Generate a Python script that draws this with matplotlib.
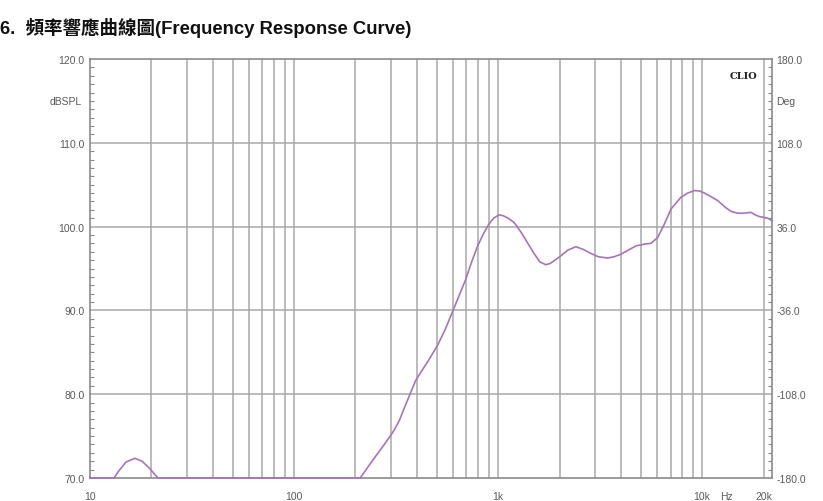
import matplotlib
matplotlib.use("Agg")
import matplotlib.pyplot as plt
from matplotlib.ticker import FixedLocator, MultipleLocator, NullFormatter

# frequency response (Hz, dB SPL)
freq = [10, 13.1, 14, 15, 16.6, 18, 19.5, 21, 21.6, 100, 211, 230, 246, 275, 300, 312,
        330, 345, 370, 394, 420, 450, 504, 550, 597, 650, 694, 740, 791, 850, 902, 950,
        1010, 1060, 1120, 1197, 1290, 1392, 1500, 1600, 1713, 1800, 1900, 2028, 2200,
        2405, 2600, 2850, 3100, 3443, 3700, 4001, 4350, 4743, 5200, 5613, 6055, 6500,
        7041, 7870, 8500, 9156, 9700, 10260, 11000, 11930, 13000, 13880, 14960, 16000,
        17380, 18200, 19090, 20990, 22000]
spl = [70, 70, 71.0, 71.9, 72.35, 72.0, 71.2, 70.3, 70, 70, 70, 71.3, 72.3, 73.9, 75.2,
       75.85, 77.0, 78.2, 80.0, 81.6, 82.7, 83.8, 85.8, 87.7, 89.8, 92.0, 93.7, 95.7,
       97.6, 99.2, 100.3, 101.0, 101.4, 101.3, 101.0, 100.5, 99.4, 98.1, 96.8, 95.8,
       95.45, 95.6, 96.0, 96.5, 97.2, 97.6, 97.3, 96.8, 96.4, 96.25, 96.4, 96.7, 97.2,
       97.7, 97.9, 98.0, 98.7, 100.2, 102.1, 103.5, 104.0, 104.3, 104.25, 104.0, 103.6,
       103.1, 102.3, 101.8, 101.6, 101.6, 101.7, 101.4, 101.2, 101.0, 100.7]

db_ticks = [70, 80, 90, 100, 110, 120]
deg_ticks = [-180, -108, -36, 36, 108, 180]
x_grid = [20, 30, 40, 50, 60, 70, 80, 90, 100, 200, 300, 400, 500, 600, 700, 800, 900,
          1000, 2000, 3000, 4000, 5000, 6000, 7000, 8000, 9000, 10000, 20000]
x_labels = {10: "10", 100: "100", 1000: "1k", 10000: "10k", 20000: "20k"}

plt.rcParams['font.family'] = ['Liberation Sans', 'DejaVu Sans']
grey = "#8a8a8a"
label_col = "#5a5a5a"

fig = plt.figure(figsize=(8.23, 5.02), dpi=100)
ax = fig.add_axes([90/823, 1-479/502, (772-90)/823, (479-60)/502])
ax.set_xscale("log")
ax.set_xlim(10, 22000)
ax.set_ylim(70, 120)

for f in x_grid:
    ax.axvline(f, color="#a8a8a8", lw=1.1, zorder=1)
for d in db_ticks[1:-1]:
    ax.axhline(d, color="#a8a8a8", lw=1.1, zorder=1)

ax.plot(freq, spl, color="#a873bc", lw=1.2, zorder=3, clip_on=False)

for s in ax.spines.values():
    s.set_color(grey)
    s.set_linewidth(1.2)

ax.xaxis.set_major_locator(FixedLocator([]))
ax.xaxis.set_minor_locator(FixedLocator([]))
ax.xaxis.set_minor_formatter(NullFormatter())
for f, t in x_labels.items():
    ax.text(f, 67.9, t, ha="center", va="center", fontsize=7.5, color=label_col)
ax.text(10000 * 10 ** (24/203.7), 67.9, "Hz", ha="center", va="center", fontsize=7.5, color=label_col)

ax.set_yticks(db_ticks)
ax.set_yticklabels([f"{v:.1f}" for v in db_ticks])
ax.yaxis.set_minor_locator(MultipleLocator(1))
ax.tick_params(axis="y", which="major", length=0, pad=4, labelsize=7.5, labelcolor=label_col)
ax.tick_params(axis="y", which="minor", direction="in", length=3, color=grey, width=0.8)
ax.text(-0.012, (115-70)/50, "dBSPL", transform=ax.transAxes, ha="right", va="center",
        fontsize=7.5, color=label_col)

ax2 = ax.twinx()
ax2.set_ylim(-180, 180)
ax2.set_yticks(deg_ticks)
ax2.set_yticklabels([f"{v:.1f}" for v in deg_ticks])
ax2.yaxis.set_minor_locator(MultipleLocator(7.2))
ax2.tick_params(axis="y", which="major", length=0, pad=3, labelsize=7.5, labelcolor=label_col)
ax2.tick_params(axis="y", which="minor", direction="in", length=3, color=grey, width=0.8)
for s in ax2.spines.values():
    s.set_visible(False)
ax2.text(1.006, (144+180)/360, "Deg", transform=ax2.transAxes, ha="left", va="center",
         fontsize=7.5, color=label_col)

ax.text(0.978, 0.972, "CLIO", transform=ax.transAxes, ha="right", va="top",
        fontsize=7, fontweight="bold", family="DejaVu Serif", color="#222222")

fig.text(0.0, 1-28/502, "6.  頻率響應曲線圖(Frequency Response Curve)", ha="left", va="center",
         fontsize=13.3, fontweight="bold", family=["Liberation Sans", "Noto Sans CJK TC"],
         color="#111111")

fig.savefig("out.png", dpi=100)
